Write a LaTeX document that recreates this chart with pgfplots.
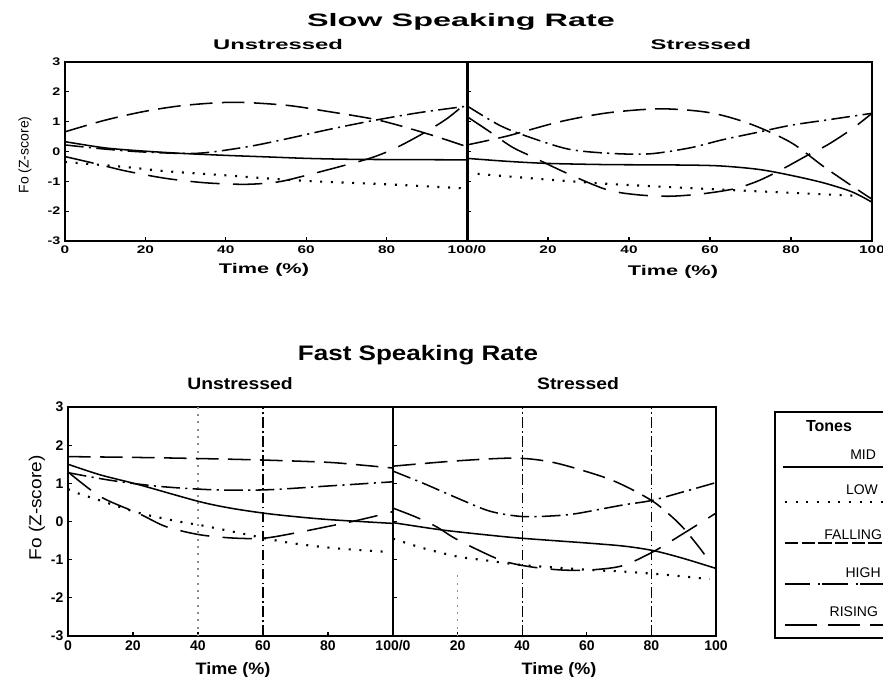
\documentclass[border=0pt]{standalone}
\usepackage{fontspec}
\setmainfont{Liberation Sans}
\usepackage{graphicx}
\usepackage{pgfplots}
\pgfplotsset{compat=1.18}

% line styles of the five tones
\tikzset{
  mid/.style={black, line width=1.15pt, solid},
  low/.style={black, line width=1.6pt, dash pattern=on 1.5pt off 6.5pt},
  falling/.style={black, line width=1.15pt, dash pattern=on 17pt off 7pt},
  high/.style={black, line width=1.15pt, dash pattern=on 14pt off 4pt on 1.6pt off 4pt},
  rising/.style={black, line width=1.15pt, dash pattern=on 22pt off 10pt},
  guide/.style={black, line width=0.9pt, dash pattern=on 8pt off 2.5pt on 1.2pt off 2.5pt},
  faint/.style={black!45, line width=0.8pt, dash pattern=on 1.5pt off 4pt},
}
\newcommand{\wide}[2]{\scalebox{#1}[1]{#2}}

\pgfplotsset{
  panel/.style={
    scale only axis, xmin=0, xmax=100, ymin=-3, ymax=3,
    axis line style={line width=1.4pt},
    xtick={0,20,40,60,80,100}, ytick={-3,-2,-1,0,1,2,3},
    xtick pos=bottom, ytick pos=left, tick align=inside,
    major tick length=3pt, tick style={line width=0.8pt, black},
  },
  slowpanel/.style={panel, height=134.25pt,
    ticklabel style={font=\fontsize{8.25}{9}\selectfont\bfseries},
    yticklabels={\wide{1.3}{-3},\wide{1.3}{-2},\wide{1.3}{-1},\wide{1.3}{0},\wide{1.3}{1},\wide{1.3}{2},\wide{1.3}{3}},
  },
  fastpanel/.style={panel, height=171.75pt,
    ticklabel style={font=\fontsize{10.5}{12}\selectfont\bfseries},
    yticklabels={-3,-2,-1,0,1,2,3},
  },
}

\begin{document}
\begin{tikzpicture}
\useasboundingbox (0,0) rectangle (662.25pt,507.75pt);
\clip (0,0) rectangle (662.25pt,507.75pt);

% ---------------- Slow speaking rate, unstressed ----------------
\begin{axis}[slowpanel, at={(48.75pt,327pt)}, anchor=south west, width=301.5pt,
  xticklabels={\wide{1.4}{0},\wide{1.4}{20},\wide{1.4}{40},\wide{1.4}{60},\wide{1.4}{80},\wide{1.4}{100/0}}]
\addplot[mid, smooth] coordinates {(0,0.33) (10,0.12) (20,0.01) (30,-0.07) (40,-0.13) (50,-0.18) (60,-0.23) (70,-0.26) (80,-0.27) (100,-0.28)};
\addplot[low, smooth] coordinates {(0,-0.35) (15,-0.52) (25,-0.66) (40,-0.8) (50,-0.9) (62,-1.0) (80,-1.1) (100,-1.24)};
\addplot[falling, smooth] coordinates {(0,0.66) (10,1.05) (20,1.35) (30,1.55) (42,1.65) (55,1.55) (65,1.35) (78,1.05) (90,0.6) (100,0.16)};
\addplot[high, smooth] coordinates {(0,0.22) (10,0.08) (20,-0.02) (33,-0.06) (45,0.15) (55,0.42) (65,0.72) (76,1.02) (88,1.3) (100,1.52)};
\addplot[rising, smooth] coordinates {(0,-0.17) (8,-0.42) (15,-0.65) (25,-0.9) (35,-1.05) (45,-1.1) (53,-1.02) (60,-0.8) (68,-0.52) (76,-0.22) (82,0.1) (89,0.6) (95,1.1) (100,1.65)};
\end{axis}

% ---------------- Slow speaking rate, stressed ----------------
\begin{axis}[slowpanel, at={(350.25pt,327pt)}, anchor=south west, width=303.75pt,
  yticklabels={},
  xticklabels={,\wide{1.4}{20},\wide{1.4}{40},\wide{1.4}{60},\wide{1.4}{80},\wide{1.4}{100}}]
\draw[line width=2.4pt] (rel axis cs:0,0) -- (rel axis cs:0,1);
\addplot[mid, smooth] coordinates {(0,-0.23) (10,-0.33) (20,-0.4) (35,-0.44) (50,-0.45) (62,-0.48) (72,-0.6) (80,-0.8) (88,-1.05) (95,-1.35) (100,-1.7)};
\addplot[low, smooth] coordinates {(0,-0.72) (16,-0.9) (33,-1.07) (48,-1.18) (68,-1.31) (92,-1.46) (97,-1.49)};
\addplot[falling, smooth] coordinates {(0,0.22) (10,0.52) (23,1.0) (35,1.3) (48,1.43) (60,1.3) (70,0.92) (80,0.3) (88,-0.5) (95,-1.15) (100,-1.6)};
\addplot[high, smooth] coordinates {(0,1.53) (8,0.88) (15,0.5) (25,0.08) (35,-0.06) (45,-0.08) (55,0.12) (63,0.39) (72,0.65) (80,0.88) (90,1.08) (100,1.28)};
\addplot[rising, smooth] coordinates {(0,1.17) (5,0.72) (11,0.16) (16,-0.17) (25,-0.75) (34.5,-1.28) (42,-1.45) (50,-1.5) (58,-1.42) (66,-1.25) (72,-0.98) (78,-0.58) (84.7,-0.08) (89,0.22) (95,0.75) (100,1.28)};
\end{axis}

% ---------------- Fast speaking rate, unstressed ----------------
\begin{axis}[fastpanel, at={(51pt,30.75pt)}, anchor=south west, width=243.75pt,
  xticklabels={0,20,40,60,80,100/0}]
\addplot[faint] coordinates {(40,-3) (40,3)};
\addplot[guide] coordinates {(60,-3) (60,3)};
\addplot[mid, smooth] coordinates {(0,1.5) (10,1.22) (22,0.96) (40,0.53) (50,0.35) (61,0.21) (72,0.11) (82,0.04) (100,-0.05)};
\addplot[low, smooth] coordinates {(0,0.85) (3,0.74) (11,0.52) (22,0.22) (34,0.0) (41,-0.1) (51,-0.27) (60,-0.43) (69,-0.57) (82,-0.7) (97,-0.79)};
\addplot[falling, smooth] coordinates {(0,1.7) (20,1.68) (40,1.65) (60,1.61) (80,1.55) (90,1.48) (100,1.4)};
\addplot[high, smooth] coordinates {(0,1.28) (13,1.08) (28,0.92) (45,0.83) (61,0.83) (80,0.93) (100,1.04)};
\addplot[rising, smooth] coordinates {(0,1.3) (10,0.65) (22,0.2) (30,-0.13) (40,-0.34) (50,-0.43) (60,-0.44) (70,-0.3) (80,-0.13) (88,0.01) (95,0.15) (100,0.26)};
\end{axis}

% ---------------- Fast speaking rate, stressed ----------------
\begin{axis}[fastpanel, at={(294.75pt,30.75pt)}, anchor=south west, width=242.25pt,
  yticklabels={},
  xticklabels={,20,40,60,80,100}]
\addplot[faint] coordinates {(20,-3) (20,-1.3)};
\addplot[guide] coordinates {(40,-3) (40,3)};
\addplot[guide] coordinates {(80,-3) (80,3)};
\addplot[mid, smooth] coordinates {(0,-0.03) (15,-0.22) (30,-0.36) (40,-0.44) (61,-0.57) (72,-0.65) (81,-0.77) (90,-0.97) (100,-1.23)};
\addplot[low, smooth] coordinates {(0,-0.45) (9.4,-0.7) (20,-0.92) (28,-1.01) (40,-1.14) (61,-1.27) (71,-1.31) (85,-1.4) (98,-1.51)};
\addplot[falling, smooth] coordinates {(0,1.45) (20,1.59) (38,1.66) (50,1.54) (65,1.17) (73,0.88) (80.6,0.52) (86,0.15) (90,-0.18) (95,-0.7) (98,-1.05)};
\addplot[high, smooth] coordinates {(0,1.32) (9.4,1.0) (20,0.61) (30,0.27) (40,0.13) (50,0.15) (57,0.21) (71,0.43) (80,0.55) (90,0.78) (100,1.02)};
\addplot[rising, smooth] coordinates {(0,0.35) (7,0.12) (13.5,-0.14) (20,-0.48) (33,-1.0) (42,-1.18) (52,-1.27) (61,-1.27) (71,-1.16) (80.6,-0.79) (90,-0.31) (100,0.22)};
\end{axis}

% ---------------- titles and axis labels ----------------
\node at (345.75pt,491.25pt) {\fontsize{13.5}{16}\selectfont\bfseries\wide{1.8}{Slow Speaking Rate}};
\node at (208.5pt,474pt) {\fontsize{10.5}{12}\selectfont\bfseries\wide{1.7}{Unstressed}};
\node at (525.75pt,474pt) {\fontsize{10.5}{12}\selectfont\bfseries\wide{1.7}{Stressed}};
\node at (198pt,305.25pt) {\fontsize{10.5}{12}\selectfont\bfseries\wide{1.55}{Time (\%)}};
\node at (504.75pt,303.75pt) {\fontsize{10.5}{12}\selectfont\bfseries\wide{1.55}{Time (\%)}};
\node[rotate=90] at (18.75pt,391.5pt) {\fontsize{10.5}{12}\selectfont Fo (Z-score)};

\node at (313.5pt,241.5pt) {\fontsize{15.75}{18}\selectfont\bfseries\wide{1.24}{Fast Speaking Rate}};
\node at (180pt,219.75pt) {\fontsize{12.4}{14}\selectfont\bfseries\wide{1.17}{Unstressed}};
\node at (433.5pt,219.75pt) {\fontsize{12.4}{14}\selectfont\bfseries\wide{1.17}{Stressed}};
\node at (174.75pt,5.25pt) {\fontsize{12.4}{14}\selectfont\bfseries\wide{1.09}{Time (\%)}};
\node at (419.25pt,5.25pt) {\fontsize{12.4}{14}\selectfont\bfseries\wide{1.09}{Time (\%)}};
\node[rotate=90] at (27.75pt,126.75pt) {\fontsize{13}{15}\selectfont\wide{1.1}{Fo (Z-score)}};

% ---------------- legend ----------------
\draw[line width=1.4pt] (690pt,198.75pt) -- (581.25pt,198.75pt) -- (581.25pt,29.25pt) -- (690pt,29.25pt);
\node[anchor=west] at (601pt,188.25pt) {\fontsize{12}{14}\selectfont\bfseries Tones};
\node[anchor=east] at (660.5pt,166.5pt) {\fontsize{10.5}{12}\selectfont MID};
\draw[mid, line width=1.4pt] (587pt,157.5pt) -- (670pt,157.5pt);
\node[anchor=east] at (662pt,140.25pt) {\fontsize{10.5}{12}\selectfont LOW};
\draw[low] (588.75pt,131.25pt) -- (670pt,131.25pt);
\node[anchor=east] at (665pt,106.5pt) {\fontsize{10.5}{12}\selectfont FALLING};
\draw[black, line width=1.2pt, dash pattern=on 10pt off 2.5pt] (588.75pt,100.5pt) -- (670pt,100.5pt);
\node[anchor=east] at (664pt,78pt) {\fontsize{10.5}{12}\selectfont HIGH};
\draw[black, line width=1.2pt, dash pattern=on 19pt off 6pt on 1.6pt off 1.5pt] (588.75pt,69.75pt) -- (670pt,69.75pt);
\node[anchor=east] at (662pt,48.75pt) {\fontsize{10.5}{12}\selectfont RISING};
\draw[black, line width=1.2pt, dash pattern=on 24pt off 8pt] (588.75pt,39pt) -- (670pt,39pt);
\end{tikzpicture}
\end{document}
